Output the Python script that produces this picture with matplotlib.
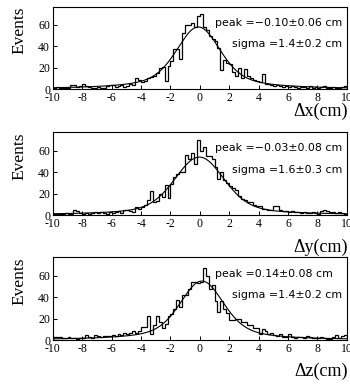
import numpy as np
import matplotlib
matplotlib.use("Agg")
import matplotlib.pyplot as plt


# --------------------------------------------------
# 1. DATA (bin contents, 0.2 cm bins)
# --------------------------------------------------

bin_edges = np.linspace(-10, 10, 101)

counts_x = [
    1, 2, 1, 1, 1, 1, 4, 4, 2, 3,
    5, 3, 2, 1, 1, 2, 1, 1, 3, 4,
    4, 2, 3, 4, 2, 3, 5, 4, 10, 9,
    7, 8, 10, 11, 12, 15, 20, 21, 8, 22,
    26, 37, 37, 28, 52, 60, 60, 62, 58, 68,
    70, 58, 55, 50, 47, 45, 38, 18, 27, 24,
    23, 16, 12, 20, 10, 19, 12, 10, 9, 8,
    7, 14, 5, 5, 4, 3, 4, 3, 2, 3,
    2, 3, 2, 1, 2, 2, 1, 3, 1, 2,
    1, 2, 3, 1, 1, 2, 1, 1, 2, 3,
]

counts_y = [
    1, 1, 1, 1, 2, 1, 1, 5, 4, 2,
    1, 2, 1, 2, 3, 2, 3, 2, 1, 3,
    2, 3, 4, 2, 5, 5, 4, 3, 7, 6,
    7, 9, 14, 22, 12, 13, 20, 17, 28, 16,
    29, 35, 38, 40, 40, 56, 52, 58, 48, 70,
    60, 63, 55, 55, 52, 45, 34, 40, 33, 30,
    27, 25, 23, 18, 15, 14, 12, 12, 9, 8,
    8, 6, 6, 5, 5, 8, 8, 5, 4, 4,
    3, 4, 3, 3, 2, 3, 2, 2, 3, 2,
    1, 4, 5, 4, 3, 3, 2, 3, 2, 1,
]

counts_z = [
    3, 3, 3, 2, 2, 3, 2, 2, 1, 2,
    2, 5, 3, 2, 5, 4, 3, 4, 4, 4,
    5, 4, 6, 5, 7, 6, 7, 8, 7, 8,
    12, 12, 22, 6, 14, 22, 17, 11, 15, 22,
    24, 29, 37, 31, 42, 42, 48, 54, 54, 53,
    54, 67, 60, 48, 51, 36, 26, 36, 29, 25,
    19, 19, 20, 20, 17, 17, 14, 14, 11, 11,
    6, 10, 8, 6, 7, 5, 4, 6, 3, 3,
    6, 3, 2, 3, 3, 2, 4, 3, 2, 2,
    2, 3, 2, 1, 1, 3, 5, 2, 4, 5,
]

# fit parameters: mean, gauss amplitude, sigma, tail amplitude, tail width
fit_x = (-0.10, 30, 1.4, 28, 2.2)
fit_y = (-0.03, 36, 1.6, 18, 2.6)
fit_z = (0.14, 30, 1.4, 25, 2.2)

peak_labels = [
    "peak =\u22120.10\u00b10.06 cm",
    "peak =\u22120.03\u00b10.08 cm",
    "peak =0.14\u00b10.08 cm",
]
sigma_labels = [
    "sigma =1.4\u00b10.2 cm",
    "sigma =1.6\u00b10.3 cm",
    "sigma =1.4\u00b10.2 cm",
]
axis_labels = ["\u0394x(cm)", "\u0394y(cm)", "\u0394z(cm)"]


def fit_curve(x, mean, a_gauss, sigma, a_tail, gamma):
    d = x - mean
    return (a_gauss * np.exp(-d ** 2 / (2 * sigma ** 2))
            + a_tail / (1 + (d / gamma) ** 2))


# --------------------------------------------------
# 2. FIGURE
# --------------------------------------------------

plt.rcParams["axes.unicode_minus"] = False
serif = "Liberation Serif"

fig = plt.figure(figsize=(3.5, 3.86), dpi=100)

panels = [
    (counts_x, fit_x, 0.769, 0.712),
    (counts_y, fit_y, 0.443, 0.360),
    (counts_z, fit_z, 0.119, 0.038),
]

xs = np.linspace(-10, 10, 400)

for i, (counts, fit, bottom, label_y) in enumerate(panels):
    ax = fig.add_axes([0.151, bottom, 0.840, 0.214])

    ax.stairs(counts, bin_edges, color="black", linewidth=0.9)
    ax.plot(xs, fit_curve(xs, *fit), color="black", linewidth=0.8)

    ax.set_xlim(-10, 10)
    ax.set_ylim(0, 77)
    ax.set_xticks(np.arange(-10, 11, 2))
    ax.set_yticks([0, 20, 40, 60])
    ax.tick_params(direction="in", length=3, width=0.7, pad=2,
                   labelsize=8.5)
    for lab in ax.get_xticklabels() + ax.get_yticklabels():
        lab.set_family(serif)
    for sp in ax.spines.values():
        sp.set_linewidth(0.8)

    ax.text(1.0, 62, peak_labels[i], fontsize=7.9, va="center",
            family="DejaVu Sans")
    ax.text(2.2, 42, sigma_labels[i], fontsize=7.9, va="center",
            family="DejaVu Sans")

    fig.text(0.057, bottom + 0.214, "Events", rotation=90,
             ha="center", va="top", fontsize=12.5, family=serif)
    fig.text(0.995, label_y, axis_labels[i], ha="right",
             va="center", fontsize=13, family=serif)

fig.savefig("out.png", dpi=100)
